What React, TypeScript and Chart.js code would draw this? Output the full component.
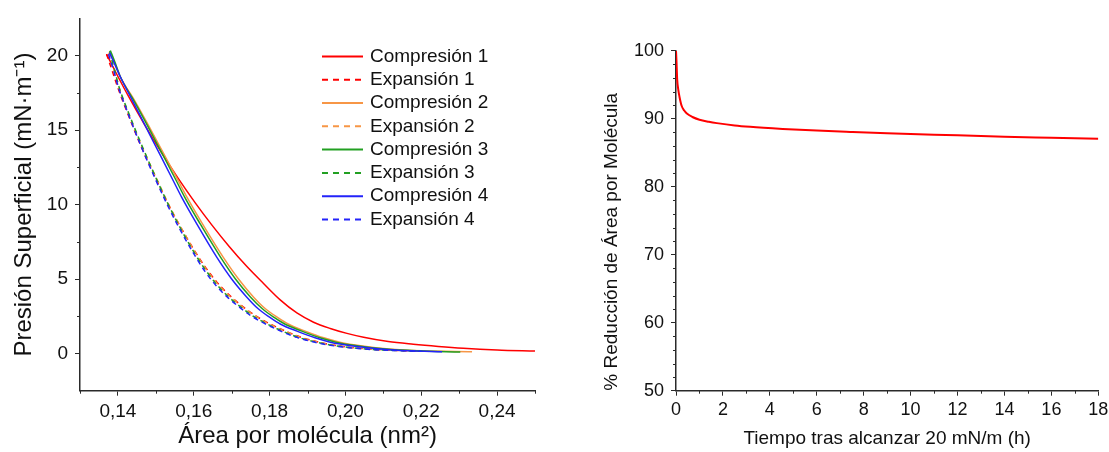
import React, { useEffect, useRef } from "react";
import { Chart, registerables } from "chart.js";

Chart.register(...registerables);

const FONT = "'Liberation Sans', Arial, Helvetica, sans-serif";
const AXIS = "#2a2a2a";
const TEXT = "#111111";

// ---------------- Left chart: isotherms ----------------
const comp1Area = [0.1370, 0.1398, 0.1427, 0.1471, 0.1515, 0.1559, 0.1603, 0.1648, 0.1694, 0.1739, 0.1784, 0.1828, 0.1872, 0.1916, 0.1960, 0.2004, 0.2048, 0.2113, 0.2179, 0.2245, 0.2311, 0.2400, 0.2500];
const comp1Pressure = [20.1, 18.7, 17.31, 15.33, 13.48, 11.76, 10.15, 8.62, 7.17, 5.87, 4.7, 3.6, 2.72, 2.1, 1.68, 1.35, 1.09, 0.8, 0.62, 0.475, 0.355, 0.24, 0.16];

const exp1Area = [0.1370, 0.1386, 0.1399, 0.1426, 0.1463, 0.1500, 0.1533, 0.1565, 0.1607, 0.1639, 0.1671, 0.1701, 0.1733, 0.1762, 0.1796, 0.1840, 0.1884, 0.1932, 0.1972, 0.2060, 0.2140, 0.2210];
const exp1Pressure = [20.1, 18.9, 17.9, 16.1, 13.8, 11.75, 10.0, 8.5, 6.7, 5.5, 4.5, 3.75, 3.08, 2.55, 2.05, 1.52, 1.08, 0.75, 0.55, 0.3, 0.2, 0.15];

const comp2Area = [0.1378, 0.1393, 0.1406, 0.1446, 0.1481, 0.1521, 0.1559, 0.1582, 0.1623, 0.1678, 0.1718, 0.1758, 0.1789, 0.1821, 0.1849, 0.1894, 0.1943, 0.1985, 0.2045, 0.2115, 0.2200, 0.2334];
const comp2Pressure = [20.2, 19.4, 18.6, 16.9, 15.3, 13.4, 11.6, 10.5, 8.7, 6.45, 5.0, 3.78, 3.0, 2.42, 1.98, 1.5, 1.05, 0.76, 0.5, 0.3, 0.18, 0.12];

const exp2Area = [0.1376, 0.1390, 0.1402, 0.1428, 0.1465, 0.1502, 0.1534, 0.1565, 0.1606, 0.1637, 0.1669, 0.1699, 0.1731, 0.1760, 0.1794, 0.1838, 0.1882, 0.1930, 0.1970, 0.2058, 0.2140, 0.2220];
const exp2Pressure = [20.2, 18.9, 17.9, 16.1, 13.8, 11.75, 10.0, 8.5, 6.7, 5.5, 4.5, 3.75, 3.08, 2.55, 2.05, 1.52, 1.08, 0.75, 0.55, 0.3, 0.2, 0.14];

const comp3Area = [0.1380, 0.1393, 0.1406, 0.1444, 0.1478, 0.1517, 0.1554, 0.1576, 0.1617, 0.1671, 0.1710, 0.1750, 0.1781, 0.1812, 0.1840, 0.1885, 0.1933, 0.1975, 0.2035, 0.2105, 0.2190, 0.2303];
const comp3Pressure = [20.35, 19.5, 18.6, 16.9, 15.3, 13.4, 11.6, 10.5, 8.7, 6.45, 5.0, 3.78, 3.0, 2.42, 1.98, 1.5, 1.05, 0.76, 0.5, 0.3, 0.18, 0.1];

const exp3Area = [0.1378, 0.1392, 0.1403, 0.1429, 0.1466, 0.1501, 0.1533, 0.1563, 0.1603, 0.1634, 0.1665, 0.1694, 0.1726, 0.1754, 0.1788, 0.1832, 0.1876, 0.1925, 0.1965, 0.2053, 0.2135, 0.2210];
const exp3Pressure = [20.3, 18.95, 17.9, 16.1, 13.8, 11.75, 10.0, 8.5, 6.7, 5.5, 4.5, 3.75, 3.08, 2.55, 2.05, 1.52, 1.08, 0.75, 0.55, 0.3, 0.2, 0.14];

const comp4Area = [0.1378, 0.1392, 0.1406, 0.1440, 0.1472, 0.1510, 0.1546, 0.1568, 0.1608, 0.1661, 0.1700, 0.1740, 0.1770, 0.1801, 0.1828, 0.1872, 0.1920, 0.1960, 0.2020, 0.2092, 0.2170, 0.2255];
const comp4Pressure = [20.2, 19.4, 18.6, 16.9, 15.3, 13.4, 11.6, 10.5, 8.7, 6.45, 5.0, 3.78, 3.0, 2.42, 1.98, 1.5, 1.05, 0.76, 0.5, 0.3, 0.18, 0.12];

const exp4Area = [0.1375, 0.1390, 0.1401, 0.1427, 0.1463, 0.1498, 0.1530, 0.1560, 0.1600, 0.1630, 0.1661, 0.1690, 0.1722, 0.1750, 0.1784, 0.1828, 0.1872, 0.1920, 0.1960, 0.2048, 0.2130, 0.2200];
const exp4Pressure = [20.1, 18.9, 17.9, 16.1, 13.8, 11.75, 10.0, 8.5, 6.7, 5.5, 4.5, 3.75, 3.08, 2.55, 2.05, 1.52, 1.08, 0.75, 0.55, 0.3, 0.2, 0.15];

const seriesLabels = ["Compresión 1", "Expansión 1", "Compresión 2", "Expansión 2", "Compresión 3", "Expansión 3", "Compresión 4", "Expansión 4"];
const seriesColors = ["rgb(255,0,0)", "rgb(255,0,0)", "rgb(247,150,70)", "rgb(247,150,70)", "rgb(34,160,34)", "rgb(34,160,34)", "rgb(35,35,250)", "rgb(35,35,250)"];
const seriesDashed = [false, true, false, true, false, true, false, true];

const leftXTicks = [0.14, 0.16, 0.18, 0.2, 0.22, 0.24];
const leftXMinor = [0.13, 0.15, 0.17, 0.19, 0.21, 0.23, 0.25];
const leftYTicks = [0, 5, 10, 15, 20];
const leftYMinor = [2.5, 7.5, 12.5, 17.5];

// ---------------- Right chart: relaxation ----------------
const timeHours = [0, 0.02, 0.05, 0.1, 0.15, 0.24, 0.35, 0.45, 0.7, 1.0, 1.4, 1.74, 2.5, 3.16, 4.55, 6.0, 7.43, 9.0, 10.0, 12.0, 14.0, 16.0, 18.0];
const areaReduction = [100, 98.5, 95.8, 94.2, 93.2, 91.9, 91.2, 90.8, 90.25, 89.85, 89.55, 89.35, 89.0, 88.8, 88.5, 88.25, 88.05, 87.85, 87.75, 87.55, 87.35, 87.2, 87.05];

const rightXTicks = [0, 2, 4, 6, 8, 10, 12, 14, 16, 18];
const rightXMinor = [1, 3, 5, 7, 9, 11, 13, 15, 17];
const rightYTicks = [50, 60, 70, 80, 90, 100];
const rightYMinor = [52, 54, 56, 58, 62, 64, 66, 68, 72, 74, 76, 78, 82, 84, 86, 88, 92, 94, 96, 98];

const zip = (xs: number[], ys: number[]) => xs.map((x, i) => ({ x, y: ys[i] }));

const minorTicksPlugin = {
  id: "minorTicks",
  afterDraw(chart: any, _args: any, opts: any) {
    const { ctx } = chart;
    const xs = chart.scales.x;
    const ys = chart.scales.y;
    ctx.save();
    ctx.strokeStyle = AXIS;
    ctx.lineWidth = 1;
    ctx.beginPath();
    (opts.x || []).forEach((v: number) => {
      const p = Math.round(xs.getPixelForValue(v)) + 0.5;
      ctx.moveTo(p, xs.top);
      ctx.lineTo(p, xs.top + opts.len);
    });
    (opts.y || []).forEach((v: number) => {
      const p = Math.round(ys.getPixelForValue(v)) + 0.5;
      ctx.moveTo(ys.right, p);
      ctx.lineTo(ys.right - opts.len, p);
    });
    ctx.stroke();
    ctx.restore();
  },
};

const insideLegendPlugin = {
  id: "insideLegend",
  afterDraw(chart: any, _args: any, opts: any) {
    if (!opts || !opts.display) return;
    const { ctx } = chart;
    const area = chart.chartArea;
    chart.data.datasets.forEach((ds: any, i: number) => {
      const y = area.top + opts.top + i * opts.rowHeight;
      const x0 = area.left + opts.left;
      ctx.save();
      ctx.strokeStyle = ds.borderColor;
      ctx.lineWidth = 2;
      ctx.setLineDash(ds.borderDash && ds.borderDash.length ? [6, 5] : []);
      ctx.beginPath();
      ctx.moveTo(x0, y);
      ctx.lineTo(x0 + opts.sample, y);
      ctx.stroke();
      ctx.setLineDash([]);
      ctx.fillStyle = TEXT;
      ctx.font = `${opts.fontSize}px ${FONT}`;
      ctx.textBaseline = "middle";
      ctx.textAlign = "left";
      ctx.fillText(ds.label, x0 + opts.sample + opts.gap, y);
      ctx.restore();
    });
  },
};

function leftConfig(): any {
  const data = [
    [comp1Area, comp1Pressure],
    [exp1Area, exp1Pressure],
    [comp2Area, comp2Pressure],
    [exp2Area, exp2Pressure],
    [comp3Area, comp3Pressure],
    [exp3Area, exp3Pressure],
    [comp4Area, comp4Pressure],
    [exp4Area, exp4Pressure],
  ];
  return {
    type: "line",
    data: {
      datasets: data.map(([xs, ys], i) => ({
        label: seriesLabels[i],
        data: zip(xs, ys),
        borderColor: seriesColors[i],
        backgroundColor: seriesColors[i],
        borderWidth: 1.5,
        borderDash: seriesDashed[i] ? [5, 4] : [],
        pointRadius: 0,
        cubicInterpolationMode: "monotone",
        fill: false,
        order: 8 - i,
      })),
    },
    options: {
      responsive: false,
      animation: false,
      devicePixelRatio: 1,
      layout: { padding: { left: 0, top: 17.4, right: 25, bottom: 0 } },
      plugins: {
        legend: { display: false },
        tooltip: { enabled: false },
        minorTicks: { x: leftXMinor, y: leftYMinor, len: 3 },
        insideLegend: { display: true, left: 242, top: 38, rowHeight: 23.3, sample: 41, gap: 7, fontSize: 19 },
      },
      scales: {
        x: {
          type: "linear",
          min: 0.13,
          max: 0.25,
          afterBuildTicks: (s: any) => { s.ticks = leftXTicks.map((v) => ({ value: v })); },
          afterFit: (s: any) => { s.height = 61.3; },
          ticks: {
            callback: (v: any) => Number(v).toFixed(2).replace(".", ","),
            font: { family: FONT, size: 19 },
            color: TEXT,
            padding: 5,
            maxRotation: 0,
            autoSkip: false,
          },
          grid: { drawOnChartArea: false, drawTicks: true, tickLength: 5, tickColor: AXIS, tickWidth: 1 },
          border: { display: true, color: AXIS, width: 1.5 },
          title: {
            display: true,
            text: "Área por molécula (nm²)",
            font: { family: FONT, size: 24 },
            color: TEXT,
            padding: { top: 0, bottom: 1 },
          },
        },
        y: {
          type: "linear",
          min: -2.5,
          max: 22.5,
          afterBuildTicks: (s: any) => { s.ticks = leftYTicks.map((v) => ({ value: v })); },
          afterFit: (s: any) => { s.width = 80; },
          ticks: {
            font: { family: FONT, size: 19 },
            color: TEXT,
            padding: 7,
          },
          grid: { drawOnChartArea: false, drawTicks: true, tickLength: 5, tickColor: AXIS, tickWidth: 1 },
          border: { display: true, color: AXIS, width: 1.5 },
          title: {
            display: true,
            text: "Presión Superficial (mN·m⁻¹)",
            font: { family: FONT, size: 24 },
            color: TEXT,
            padding: { top: 9.6, bottom: 0 },
          },
        },
      },
    },
    plugins: [minorTicksPlugin, insideLegendPlugin],
  };
}

function rightConfig(): any {
  return {
    type: "line",
    data: {
      datasets: [
        {
          label: "% Reducción de Área por Molécula",
          data: zip(timeHours, areaReduction),
          borderColor: "rgb(255,0,0)",
          backgroundColor: "rgb(255,0,0)",
          borderWidth: 2,
          pointRadius: 0,
          cubicInterpolationMode: "monotone",
          fill: false,
        },
      ],
    },
    options: {
      responsive: false,
      animation: false,
      devicePixelRatio: 1,
      layout: { padding: { left: 0, top: 50.7, right: 21.7, bottom: 0 } },
      plugins: {
        legend: { display: false },
        tooltip: { enabled: false },
        minorTicks: { x: rightXMinor, y: rightYMinor, len: 3 },
        insideLegend: { display: false },
      },
      scales: {
        x: {
          type: "linear",
          min: 0,
          max: 18,
          afterBuildTicks: (s: any) => { s.ticks = rightXTicks.map((v) => ({ value: v })); },
          afterFit: (s: any) => { s.height = 61.3; },
          ticks: {
            font: { family: FONT, size: 18 },
            color: TEXT,
            padding: 4,
            maxRotation: 0,
            autoSkip: false,
          },
          grid: { drawOnChartArea: false, drawTicks: true, tickLength: 5, tickColor: AXIS, tickWidth: 1 },
          border: { display: true, color: AXIS, width: 1.5 },
          title: {
            display: true,
            text: "Tiempo tras alcanzar 20 mN/m (h)",
            font: { family: FONT, size: 19 },
            color: TEXT,
            padding: { top: 0, bottom: 1.5 },
          },
        },
        y: {
          type: "linear",
          min: 50,
          max: 100,
          afterBuildTicks: (s: any) => { s.ticks = rightYTicks.map((v) => ({ value: v })); },
          afterFit: (s: any) => { s.width = 116; },
          ticks: {
            font: { family: FONT, size: 18 },
            color: TEXT,
            padding: 7,
          },
          grid: { drawOnChartArea: false, drawTicks: true, tickLength: 5, tickColor: AXIS, tickWidth: 1 },
          border: { display: true, color: AXIS, width: 1.5 },
          title: {
            display: true,
            text: "% Reducción de Área por Molécula",
            font: { family: FONT, size: 19 },
            color: TEXT,
            align: "start",
            padding: { top: 40.6, bottom: 0 },
          },
        },
      },
    },
    plugins: [minorTicksPlugin, insideLegendPlugin],
  };
}

function ChartCanvas({ make, left, width }: { make: () => any; left: number; width: number }) {
  const ref = useRef<HTMLCanvasElement>(null);
  useEffect(() => {
    const chart = new Chart(ref.current as HTMLCanvasElement, make());
    return () => chart.destroy();
  }, []);
  return (
    <canvas
      ref={ref}
      width={width}
      height={452}
      style={{ position: "absolute", left, top: 0, width, height: 452 }}
    />
  );
}

export default function App() {
  return (
    <div style={{ position: "absolute", left: 0, top: 0, width: 1109, height: 452, background: "#ffffff", overflow: "hidden" }}>
      <ChartCanvas make={leftConfig} left={0} width={560} />
      <ChartCanvas make={rightConfig} left={560} width={560} />
    </div>
  );
}
